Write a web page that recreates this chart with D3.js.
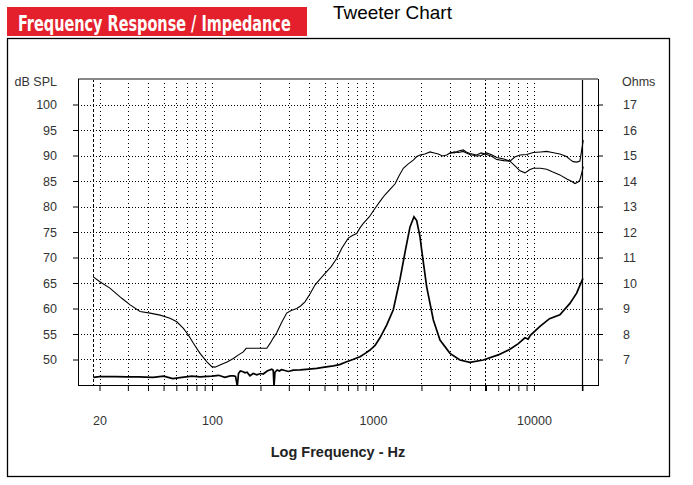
<!DOCTYPE html>
<html><head><meta charset="utf-8">
<script src="https://cdn.jsdelivr.net/npm/d3@7"></script>
<style>body{margin:0;background:#fff} svg{display:block}</style>
</head><body>
<script>
// SPL curve A (on-axis), frequency in Hz and level in dB SPL
const splFreqA = [18.3,20,23.2,27.5,31,35.7,41.2,47.6,54.8,60.4,66.4,71.3,76.6,84.2,92.7,99.6,104.4,112,124,135.6,146,156.4,163,190,219,230,240,252,270,291,310,336,355,378,405,436,470,504,550,595,640,702,745,792,830,871,950,1028,1105,1188,1280,1370,1450,1543,1650,1780,1870,1959,2100,2262,2400,2545,2700,2870,3050,3200,3400,3638,3800,4000,4406,4700,5082,5500,5866,6500,7097,7600,8187,9000,9900,11000,11990,13000,14490,15950,16800,17530,18500,19300,19780,20250];
const splDbA   = [66.2,65.3,64.0,62.0,60.7,59.4,59.1,58.7,58.1,57.4,56.1,54.8,53.2,51.2,49.6,48.6,48.5,48.9,49.5,50.2,50.9,51.5,52.2,52.2,52.2,53.2,54.2,55.2,57.2,59.1,59.6,60.0,60.5,61.3,62.8,64.6,65.8,66.9,68.2,69.8,71.8,73.8,74.3,74.7,75.8,76.7,78.0,79.6,81.0,82.3,83.4,84.4,86.0,87.5,88.3,89.1,89.8,90.1,90.3,90.7,90.5,90.3,89.9,90.1,90.6,90.5,90.9,91.1,90.7,90.4,90.1,90.5,90.2,89.8,89.2,89.0,88.9,89.7,90.1,90.2,90.6,90.7,90.8,90.6,90.3,89.8,89.2,88.8,88.7,88.9,91.0,93.0];
// SPL curve B (off-axis), splits from A above 3 kHz
const splFreqB = [3000,3200,3400,3638,3800,4000,4406,4700,5082,5500,5866,6500,7097,7600,8187,8800,9400,9900,11000,11990,13000,14490,16000,17200,17970,18800,19300,19780,20250];
const splDbB   = [90.4,90.7,90.6,90.8,90.5,90.2,89.9,90.0,90.5,90.1,89.6,89.3,88.9,88.0,87.0,86.6,87.2,87.5,87.5,87.3,86.8,86.2,85.4,84.9,84.5,84.8,85.2,86.5,87.8];
// Impedance curve, ohms
const impFreq = [18.3,20,25,30,35,43,50,57,65,75,84,100,110,120,130,136,140,143.6,146,150,156,160,165,172,180,190,200,208,220,235,240,242.7,246,254,262,270,280,298,320,352,400,447,500,567,620,686,750,830,900,958,1030,1105,1216,1337,1472,1581,1698,1798,1868,1959,2006,2156,2371,2608,3009,3469,4000,4842,5998,7097,8000,8792,9200,9500,10900,12500,14490,16730,18420,20150];
const impOhm  = [6.30,6.33,6.33,6.32,6.32,6.30,6.35,6.25,6.30,6.35,6.32,6.35,6.38,6.30,6.36,6.36,6.34,5.95,6.45,6.55,6.52,6.48,6.50,6.36,6.45,6.40,6.45,6.43,6.55,6.62,6.58,5.95,6.50,6.59,6.55,6.60,6.58,6.53,6.58,6.59,6.62,6.65,6.70,6.75,6.80,6.91,7.00,7.11,7.25,7.37,7.55,7.85,8.35,8.95,10.15,11.2,12.2,12.6,12.45,11.82,11.3,9.85,8.55,7.76,7.24,6.98,6.89,6.98,7.18,7.40,7.62,7.85,7.80,7.95,8.30,8.60,8.75,9.20,9.60,10.18];

const dbTicks = [50,55,60,65,70,75,80,85,90,95,100];
const ohmTicks = [7,8,9,10,11,12,13,14,15,16,17];
const freqLabels = [20,100,1000,10000];
const freqLabelText = ["20","100","1000","10000"];
const dataStartFreq = 18.3;
const markerFreq = 5000;
const limitFreq = 20000;

const W = 693, H = 485;
const L = 78, R = 598, T = 79, B = 385;

const svg = d3.select("body").append("svg").attr("width", W).attr("height", H)
  .style("font-family", "'Liberation Sans', Arial, sans-serif");

// Header
svg.append("rect").attr("x", 7).attr("y", 7).attr("width", 300).attr("height", 29).attr("fill", "#e3202b");
const ht = svg.append("text").attr("x", 0).attr("y", 0).attr("fill", "#fff")
  .attr("font-family", "'Liberation Sans Narrow','DejaVu Sans Condensed',sans-serif")
  .attr("font-weight", "bold").attr("font-size", 22)
  .text("Frequency Response / Impedance");
const htLen = ht.node().getComputedTextLength() || 273;
ht.attr("transform", `translate(18,31) scale(${273 / htLen},1)`);

const tt = svg.append("text").attr("x", 0).attr("y", 0).attr("fill", "#000")
  .attr("font-size", 18).text("Tweeter Chart");
const ttLen = tt.node().getComputedTextLength() || 119;
tt.attr("transform", `translate(333,19) scale(${119 / ttLen},1)`);

// Outer frame
svg.append("rect").attr("x", 7.5).attr("y", 38.5).attr("width", 662).attr("height", 438)
  .attr("fill", "none").attr("stroke", "#000").attr("stroke-width", 1.3);

const x = d3.scaleLog().domain([14.7, 25000]).range([L, R]);
const y = d3.scaleLinear().domain([45, 105]).range([B, T]);
const yO = d3.scaleLinear().domain([6, 18]).range([B, T]);

const gridFreqs = [];
[10,100,1000,10000].forEach(d => { for (let m = 1; m <= 9; m++) { const f = m*d; if (f >= 20 && f <= 20000) gridFreqs.push(f); } });

const g = svg.append("g");

// horizontal grid
g.selectAll(".hg").data(dbTicks).join("line")
  .attr("x1", L).attr("x2", R).attr("y1", d => Math.round(y(d)) + 0.5).attr("y2", d => Math.round(y(d)) + 0.5)
  .attr("stroke", "#000").attr("stroke-width", 1).attr("stroke-dasharray", "1,2");
// vertical grid
g.selectAll(".vg").data(gridFreqs.filter(f => f !== limitFreq && f !== markerFreq)).join("line")
  .attr("x1", d => Math.round(x(d)) + 0.5).attr("x2", d => Math.round(x(d)) + 0.5).attr("y1", T).attr("y2", B)
  .attr("stroke", "#000").attr("stroke-width", 1).attr("stroke-dasharray", "1,3");
// marker lines
g.append("line").attr("x1", Math.round(x(markerFreq)) + 0.5).attr("x2", Math.round(x(markerFreq)) + 0.5)
  .attr("y1", T).attr("y2", B).attr("stroke", "#000").attr("stroke-dasharray", "2,2");
g.append("line").attr("x1", Math.round(x(dataStartFreq)) + 0.5).attr("x2", Math.round(x(dataStartFreq)) + 0.5)
  .attr("y1", T).attr("y2", B).attr("stroke", "#000").attr("stroke-dasharray", "3,2");
g.append("line").attr("x1", Math.round(x(limitFreq)) + 0.5).attr("x2", Math.round(x(limitFreq)) + 0.5)
  .attr("y1", T).attr("y2", B + 6).attr("stroke", "#000").attr("stroke-width", 1.2);

// Axes
const axB = d3.axisBottom(x).tickValues(gridFreqs).tickSize(6).tickPadding(25)
  .tickFormat(d => { const i = freqLabels.indexOf(d); return i >= 0 ? freqLabelText[i] : ""; });
const gx = svg.append("g").attr("transform", `translate(0,${B})`).call(axB);
gx.select(".domain").remove();
gx.selectAll(".tick line").attr("stroke", "#000").attr("stroke-width", d => d === markerFreq ? 2 : 1);
gx.selectAll(".tick text").attr("font-size", 12.5).attr("fill", "#333").attr("font-family", "'Liberation Sans', Arial, sans-serif");

const axL = d3.axisLeft(y).tickValues(dbTicks).tickSize(5).tickPadding(16);
const gl = svg.append("g").attr("transform", `translate(${L},0)`).call(axL);
gl.select(".domain").remove();
gl.selectAll(".tick text").attr("font-size", 12.5).attr("fill", "#333").attr("font-family", "'Liberation Sans', Arial, sans-serif");

const axR = d3.axisRight(yO).tickValues(ohmTicks).tickSize(5).tickPadding(20);
const gr = svg.append("g").attr("transform", `translate(${R},0)`).call(axR);
gr.select(".domain").remove();
gr.selectAll(".tick text").attr("font-size", 12.5).attr("fill", "#333").attr("font-family", "'Liberation Sans', Arial, sans-serif");

// Axis titles
svg.append("text").attr("x", 57).attr("y", 86).attr("text-anchor", "end").attr("font-size", 12.5).attr("fill", "#333").text("dB SPL");
svg.append("text").attr("x", 622).attr("y", 86).attr("font-size", 12.5).attr("fill", "#333").text("Ohms");
svg.append("text").attr("x", 338).attr("y", 457).attr("text-anchor", "middle").attr("font-size", 14.5)
  .attr("font-weight", "bold").attr("fill", "#222").text("Log Frequency - Hz");

// plot frame
svg.append("line").attr("x1", L).attr("x2", R).attr("y1", T).attr("y2", T).attr("stroke", "#888").attr("stroke-width", 2);
svg.append("line").attr("x1", L + 0.5).attr("x2", L + 0.5).attr("y1", T).attr("y2", B).attr("stroke", "#000");
svg.append("line").attr("x1", R + 0.5).attr("x2", R + 0.5).attr("y1", T).attr("y2", B).attr("stroke", "#000");
svg.append("line").attr("x1", L).attr("x2", R + 1).attr("y1", B + 0.5).attr("y2", B + 0.5).attr("stroke", "#000");

// clip
svg.append("clipPath").attr("id", "clip").append("rect").attr("x", L).attr("y", T).attr("width", R - L).attr("height", B - T + 1);
const plot = svg.append("g").attr("clip-path", "url(#clip)");

const lineDb = d3.line().x(d => x(d[0])).y(d => y(d[1]));
const lineOhm = d3.line().x(d => x(d[0])).y(d => yO(d[1]));

plot.append("path").datum(d3.zip(splFreqA, splDbA)).attr("d", lineDb)
  .attr("fill", "none").attr("stroke", "#000").attr("stroke-width", 1.1);
plot.append("path").datum(d3.zip(splFreqB, splDbB)).attr("d", lineDb)
  .attr("fill", "none").attr("stroke", "#000").attr("stroke-width", 1.1);
plot.append("path").datum(d3.zip(impFreq, impOhm)).attr("d", lineOhm)
  .attr("fill", "none").attr("stroke", "#000").attr("stroke-width", 1.7);
</script>
</body></html>
